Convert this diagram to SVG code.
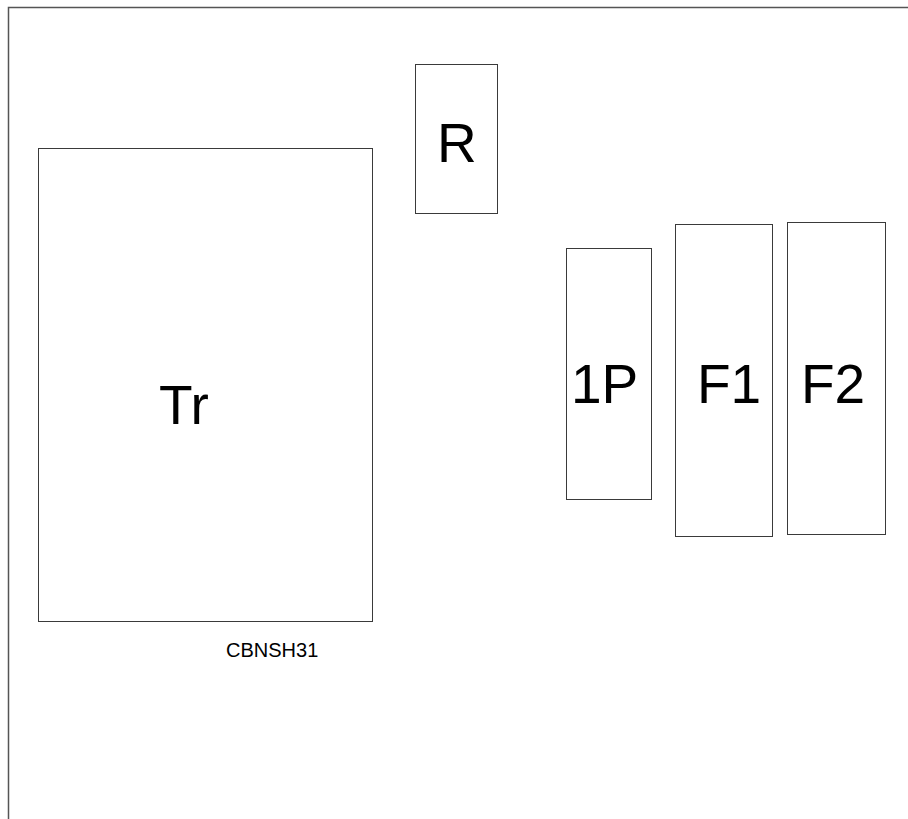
<svg xmlns="http://www.w3.org/2000/svg" width="908" height="819" viewBox="0 0 908 819">
<style>
.box{fill:#fff;stroke:#3a3a3a;stroke-width:1}
.frame{fill:none;stroke:#555;stroke-width:1.5}
.lbl{font-family:"Liberation Sans",Arial,sans-serif;font-size:55px;fill:#000}
.cap{font-family:"Liberation Sans",Arial,sans-serif;font-size:20px;fill:#000}
</style>
<rect width="908" height="819" fill="#fff"/>
<g id="frame"><path class="frame" d="M908,7.5 H8.5 V819"/></g>
<g id="connectors"></g>
<g id="Tr"><rect class="box" x="38.5" y="148.5" width="334" height="473"/><text class="lbl" x="159" y="424">Tr</text></g>
<g id="R"><rect class="box" x="415.5" y="64.5" width="82" height="149"/><text class="lbl" x="437" y="162">R</text></g>
<g id="P1"><rect class="box" x="566.5" y="248.5" width="85" height="251"/><text class="lbl" x="571" y="403">1P</text></g>
<g id="F1"><rect class="box" x="675.5" y="224.5" width="97" height="312"/><text class="lbl" x="697" y="403">F1</text></g>
<g id="F2"><rect class="box" x="787.5" y="222.5" width="98" height="312"/><text class="lbl" x="801" y="403">F2</text></g>
<g id="label"><text class="cap" x="226" y="657">CBNSH31</text></g>
</svg>
